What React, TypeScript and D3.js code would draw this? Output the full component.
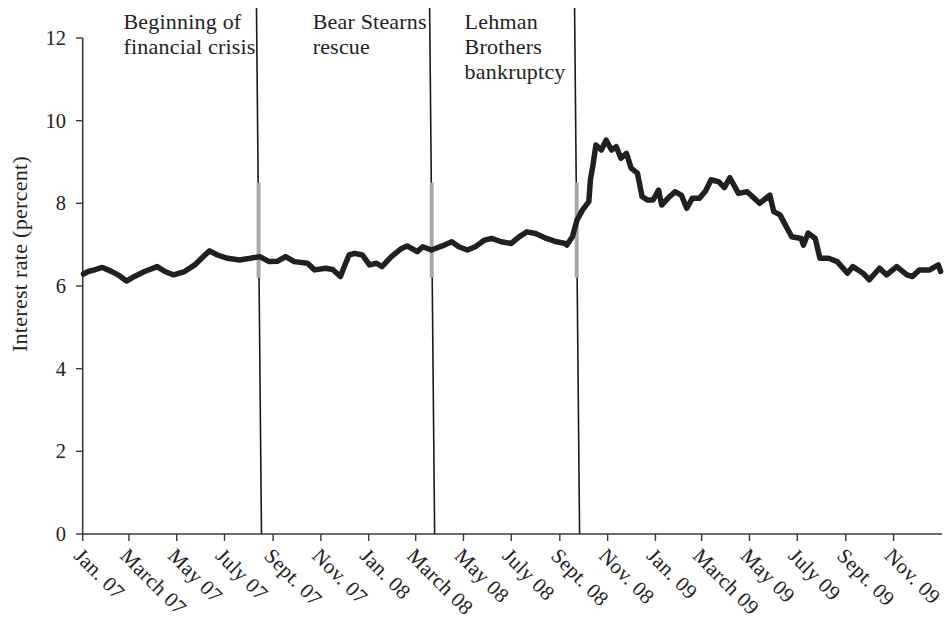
import React from "react";
import * as d3 from "d3";

const dates: string[] = [
  "2007-01-02","2007-01-08","2007-01-16","2007-01-26","2007-02-06","2007-02-15","2007-02-26","2007-03-08","2007-03-21","2007-04-06",
  "2007-04-16","2007-04-27","2007-05-11","2007-05-24","2007-06-06","2007-06-12","2007-06-22","2007-07-05","2007-07-20","2007-08-03",
  "2007-08-15","2007-08-27","2007-09-07","2007-09-17","2007-09-28","2007-10-15","2007-10-24","2007-11-07","2007-11-16","2007-11-26",
  "2007-11-30","2007-12-07","2007-12-14","2007-12-24","2008-01-02","2008-01-11","2008-01-18","2008-01-30","2008-02-12","2008-02-19",
  "2008-03-03","2008-03-10","2008-03-21","2008-04-04","2008-04-16","2008-04-25","2008-05-06","2008-05-16","2008-05-28","2008-06-06",
  "2008-06-18","2008-07-01","2008-07-11","2008-07-21","2008-08-01","2008-08-15","2008-08-28","2008-09-08","2008-09-10","2008-09-17",
  "2008-09-23","2008-09-30","2008-10-08","2008-10-10","2008-10-13","2008-10-17","2008-10-24","2008-10-30","2008-11-06","2008-11-12",
  "2008-11-18","2008-11-25","2008-12-01","2008-12-09","2008-12-15","2008-12-22","2008-12-29","2009-01-05","2009-01-09","2009-01-19",
  "2009-01-26","2009-02-03","2009-02-10","2009-02-17","2009-02-26","2009-03-06","2009-03-13","2009-03-23","2009-03-30","2009-04-06",
  "2009-04-17","2009-04-28","2009-05-14","2009-05-27","2009-06-01","2009-06-09","2009-06-18","2009-06-24","2009-07-06","2009-07-09",
  "2009-07-15","2009-07-24","2009-07-30","2009-08-10","2009-08-21","2009-09-03","2009-09-10","2009-09-23","2009-10-01","2009-10-14",
  "2009-10-23","2009-11-05","2009-11-18","2009-11-25","2009-12-04","2009-12-17","2009-12-28","2009-12-31"
];

const rates: number[] = [
  6.29,6.35,6.39,6.45,6.36,6.27,6.12,6.23,6.35,6.47,
  6.35,6.27,6.35,6.51,6.75,6.85,6.75,6.67,6.63,6.67,
  6.71,6.59,6.60,6.71,6.59,6.55,6.39,6.43,6.40,6.23,
  6.43,6.75,6.79,6.75,6.51,6.55,6.47,6.71,6.91,6.97,
  6.83,6.95,6.87,6.97,7.07,6.95,6.87,6.95,7.11,7.15,
  7.07,7.03,7.19,7.31,7.27,7.15,7.07,7.03,6.99,7.19,
  7.60,7.84,8.04,8.57,8.89,9.41,9.29,9.53,9.29,9.37,
  9.09,9.21,8.85,8.73,8.16,8.08,8.08,8.32,7.96,8.16,
  8.28,8.20,7.88,8.12,8.12,8.30,8.57,8.52,8.38,8.62,
  8.24,8.28,8.00,8.20,7.80,7.72,7.40,7.19,7.15,6.99,
  7.28,7.15,6.67,6.67,6.59,6.31,6.47,6.31,6.15,6.43,
  6.27,6.47,6.27,6.23,6.39,6.39,6.51,6.35
];

const tickDates: string[] = [
  "2007-01-01","2007-03-01","2007-05-01","2007-07-01","2007-09-01","2007-11-01",
  "2008-01-01","2008-03-01","2008-05-01","2008-07-01","2008-09-01","2008-11-01",
  "2009-01-01","2009-03-01","2009-05-01","2009-07-01","2009-09-01","2009-11-01"
];
const tickLabels: string[] = [
  "Jan. 07","March 07","May 07","July 07","Sept. 07","Nov. 07",
  "Jan. 08","March 08","May 08","July 08","Sept. 08","Nov. 08",
  "Jan. 09","March 09","May 09","July 09","Sept. 09","Nov. 09"
];
const yTicks: number[] = [0, 2, 4, 6, 8, 10, 12];

const eventDates: string[] = ["2007-08-14", "2008-03-22", "2008-09-23"];
const eventLabels: string[][] = [
  ["Beginning of", "financial crisis"],
  ["Bear Stearns", "rescue"],
  ["Lehman", "Brothers", "bankruptcy"],
];
const eventLabelOffsets = [133, 117, 110];

const W = 948, H = 623;
const FONT = "'Liberation Serif', 'Times New Roman', serif";

export default function App() {
  const parse = d3.timeParse("%Y-%m-%d");
  const x = d3.scaleTime()
    .domain([parse("2007-01-01")!, parse("2010-01-01")!])
    .range([82.7, 941.4]);
  const y = d3.scaleLinear().domain([0, 12]).range([534, 38]);
  const pts = dates.map((d, i) => [x(parse(d)!), y(rates[i])] as [number, number]);
  const line = d3.line<[number, number]>().x(p => p[0]).y(p => p[1]);
  const axisColor = "#3a3a3a";
  const topY = 8;
  const slant = 5;

  return (
    <svg width={W} height={H} style={{ position: "absolute", left: 0, top: 0 }} fontFamily={FONT}>
      <rect width={W} height={H} fill="#fff" />
      {/* y axis */}
      <line x1={82.7} x2={82.7} y1={y(12)} y2={y(0)} stroke={axisColor} strokeWidth={1.6} />
      {yTicks.map(t => (
        <g key={t}>
          <line x1={76} x2={82.7} y1={y(t)} y2={y(t)} stroke={axisColor} strokeWidth={1.4} />
          <text x={66} y={y(t)} dy="0.34em" textAnchor="end" fontSize={20.5} fill="#222">{t}</text>
        </g>
      ))}
      <text transform={`translate(27,254) rotate(-90)`} textAnchor="middle" fontSize={22} letterSpacing={0.3} fill="#222">
        Interest rate (percent)
      </text>
      {/* x axis */}
      <line x1={82.7} x2={942} y1={y(0)} y2={y(0)} stroke={axisColor} strokeWidth={1.6} />
      {tickDates.map((d, i) => {
        const tx = x(parse(d)!);
        return (
          <g key={d}>
            <line x1={tx} x2={tx} y1={y(0)} y2={y(0) + 7} stroke={axisColor} strokeWidth={1.4} />
            <text transform={`translate(${tx - 10},557) rotate(45)`} fontSize={21} letterSpacing={0.3} fill="#222">{tickLabels[i]}</text>
          </g>
        );
      })}
      {/* event lines */}
      {eventDates.map((d, i) => {
        const ex = x(parse(d)!);
        const x1 = ex - slant / 2, x2 = ex + slant / 2;
        const at = (py: number) => x1 + (x2 - x1) * (py - topY) / (y(0) - topY);
        const gTop = y(8.5), gBot = y(6.2);
        const gx = at((gTop + gBot) / 2);
        return (
          <g key={d}>
            <line x1={x1} y1={topY} x2={x2} y2={y(0)} stroke="#1a1a1a" strokeWidth={1.6} />
            <rect x={gx - 2} y={gTop} width={4} height={gBot - gTop} fill="#a9a9a9" />
            {eventLabels[i].map((s, j) => (
              <text key={j} x={x1 - eventLabelOffsets[i]} y={29 + j * 25} fontSize={22} letterSpacing={0.2} fill="#222">{s}</text>
            ))}
          </g>
        );
      })}
      <path d={line(pts)!} fill="none" stroke="#231f20" strokeWidth={5.5} strokeLinejoin="round" strokeLinecap="round" />
    </svg>
  );
}
